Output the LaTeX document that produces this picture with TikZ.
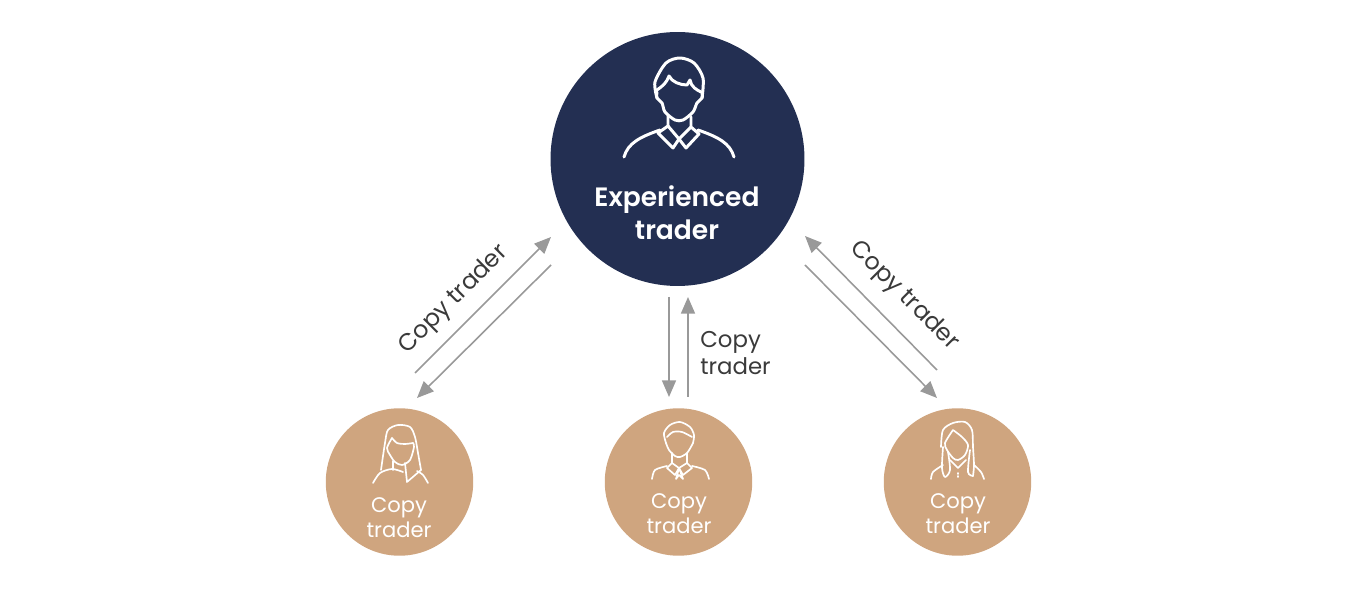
\documentclass[tikz,border=0pt]{standalone}
\usepackage{fontspec}
\setmainfont{Poppins}
\newfontfamily\semifont{Poppins SemiBold}
\usetikzlibrary{arrows.meta}
\definecolor{navy}{HTML}{232F52}
\definecolor{tan}{HTML}{CFA57F}
\definecolor{linegray}{HTML}{999999}
\definecolor{labelgray}{HTML}{3A3A3A}
\tikzset{
    bigdisc/.style={circle,fill=navy,minimum size=5.08cm,inner sep=0pt},
    smalldisc/.style={circle,fill=tan,minimum size=2.95cm,inner sep=0pt},
    flow/.style={draw=linegray,line width=0.9pt,-{Triangle[length=9.5pt,width=8pt]}},
    face/.style={draw=white,line width=1.7pt,line cap=round,line join=round},
    facethin/.style={draw=white,line width=0.95pt,line cap=round,line join=round},
    disclabel/.style={text=white,font=\fontsize{12}{14.2}\selectfont,align=center},
    arrowlabel/.style={text=labelgray,font=\fontsize{13}{15}\selectfont},
    slantlabel/.style={text=labelgray,font=\fontsize{13.6}{15}\selectfont,inner sep=1pt}
}
\begin{document}
\begin{tikzpicture}[x=0.02cm,y=-0.02cm]
    \useasboundingbox (0,0) rectangle (1350,590);
    % the four discs
    \node[bigdisc] (expert) at (677.5,159) {};
    \node[smalldisc] (left) at (399.5,482) {};
    \node[smalldisc] (middle) at (678.5,482) {};
    \node[smalldisc] (right) at (957.5,482) {};
    % texts in the discs
    \node[text=white,font=\semifont\fontsize{15.1}{18.7}\selectfont,align=center] (experttext) at (677,213) {Experienced\\trader};
    \node[disclabel] (lefttext) at (399,518) {Copy\\trader};
    \node[disclabel] (middletext) at (679,514) {Copy\\trader};
    \node[disclabel] (righttext) at (958,514) {Copy\\trader};
    % ends of the arrows
    \coordinate (la) at (415,373);
    \coordinate (lb) at (551,237);
    \coordinate (lc) at (551,265);
    \coordinate (ld) at (417,398);
    \coordinate (ma) at (669,297);
    \coordinate (mb) at (669,397);
    \coordinate (mc) at (688,397);
    \coordinate (md) at (688,297);
    \coordinate (ra) at (937,370);
    \coordinate (rb) at (805,236);
    \coordinate (rc) at (805,265);
    \coordinate (rd) at (937,398);
    \draw[flow] (la) -- (lb);
    \draw[flow] (lc) -- (ld);
    \draw[flow] (ma) -- (mb);
    \draw[flow] (mc) -- (md);
    \draw[flow] (ra) -- (rb);
    \draw[flow] (rc) -- (rd);
    % arrow labels
    \node[slantlabel,rotate=45] (leftlabel) at (454,300) {Copy trader};
    \node[slantlabel,rotate=-45] (rightlabel) at (904,296) {Copy trader};
    \node[arrowlabel,align=left,anchor=west,inner sep=0pt] (middlelabel) at (700,353) {Copy\\trader};
    % experienced trader icon
    \draw[face] plot[smooth] coordinates {(657,98) (655,82) (666,63) (680,58) (694,63) (703,78) (702,98)};
    \draw[face] (657,90) .. controls (663,86) and (667,82) .. (669,76) .. controls (672,82) and (680,85) .. (687,85) -- (690,80) .. controls (691,87) and (697,90) .. (701,92);
    \draw[face] plot[smooth] coordinates {(657,92) (657,98) (662,103) (665,112) (675,120) (683,120) (693,112) (697,103) (702,98) (702,92)};
    \draw[face] (668,116) -- (668,126) -- (658,133) -- (673,148) -- (679,139) -- (686,148) -- (699,134) -- (691,127) -- (691,117);
    \draw[face] (668,126) -- (679,139) -- (691,127);
    \draw[face] (624,157) .. controls (628,143) and (640,137) .. (660,130);
    \draw[face] (734,157) .. controls (730,143) and (718,137) .. (698,130);
    % left woman icon
    \draw[facethin] plot[smooth] coordinates {(381,470) (385,443) (388,430) (398,425) (410,427) (415,437) (418,453) (421,470)};
    \draw[facethin] (421,470) -- (407,482) -- (405,463);
    \draw[facethin] plot[smooth] coordinates {(392,438) (397,443) (405,444) (413,443)};
    \draw[facethin] plot[smooth] coordinates {(392,438) (387,448) (390,455) (395,462) (402,465) (410,460) (414,447) (413,443)};
    \draw[facethin] (393,461) -- (393,470);
    \draw[facethin] plot[smooth] coordinates {(373,483) (380,473) (392,469) (403,472)};
    \draw[facethin] plot[smooth] coordinates {(428,483) (423,475) (417,471)};
    % middle man icon
    \draw[facethin] plot[smooth] coordinates {(666,443) (664,433) (670,425) (680,422) (690,427) (694,435) (693,443)};
    \draw[facethin] plot[smooth] coordinates {(667,437) (673,432) (682,432) (692,437)};
    \draw[facethin] plot[smooth] coordinates {(666,443) (669,450) (675,456) (680,457) (687,453) (692,445) (693,443)};
    \draw[facethin] (672,453) -- (672,463) -- (667,468) -- (675,475) -- (679,468) -- (683,475) -- (692,468) -- (687,463) -- (687,453);
    \draw[facethin] (672,463) -- (679,468) -- (687,463);
    \draw[facethin] (679,468) -- (676,479) -- (679,475) -- (683,479) -- (679,468);
    \draw[facethin] plot[smooth] coordinates {(652,479) (655,470) (667,466)};
    \draw[facethin] plot[smooth] coordinates {(709,479) (705,470) (692,466)};
    % right woman icon
    \draw[facethin] plot[smooth] coordinates {(941,447) (943,430) (953,423) (965,422) (972,430) (973,447) (974,465) (973,476)};
    \draw[facethin] plot[smooth] coordinates {(943,447) (942,468) (945,477) (950,470) (948,452)};
    \draw[facethin] plot[smooth] coordinates {(970,450) (968,472) (973,476)};
    \draw[facethin] plot[smooth] coordinates {(953,430) (945,443) (947,450) (953,458) (958,460) (965,455) (968,445) (962,437) (953,430)};
    \draw[facethin] (950,460) -- (958,468) -- (966,460);
    \draw[facethin] plot[smooth] coordinates {(931,479) (933,472) (943,465)};
    \draw[facethin] plot[smooth] coordinates {(984,479) (981,472) (974,465)};
    \draw[facethin] (958,473) -- (958,474);
    \draw[facethin] (958,476) -- (958,477);
\end{tikzpicture}
\end{document}
